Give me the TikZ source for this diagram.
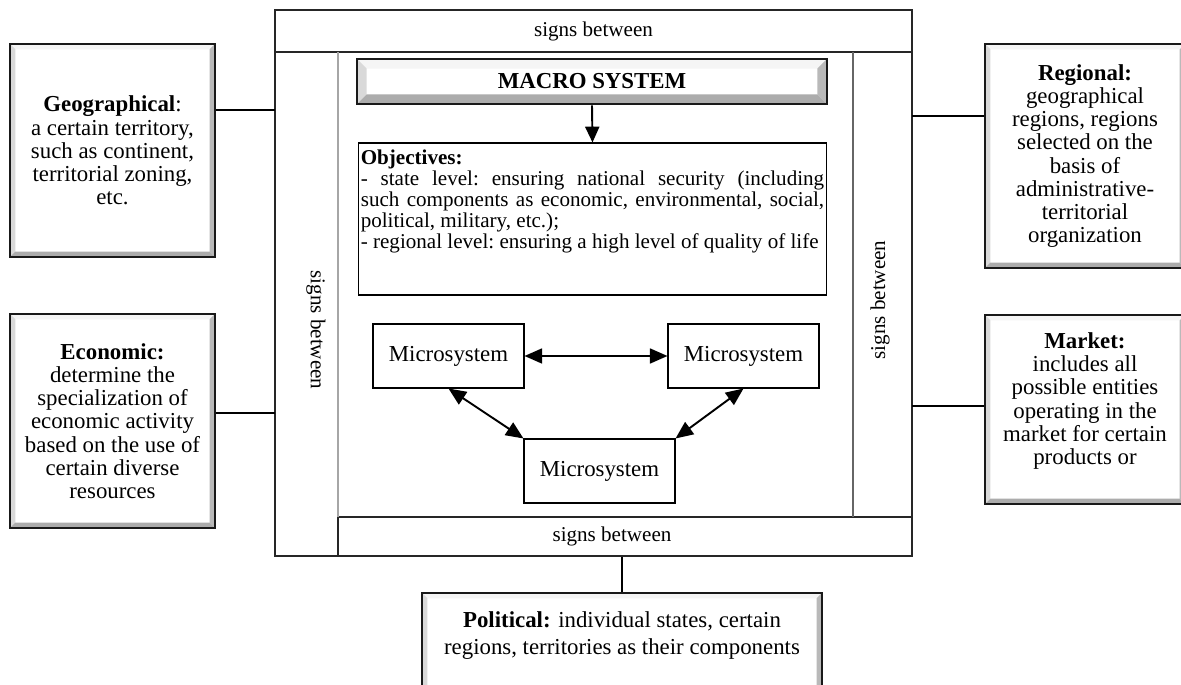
\documentclass[tikz,border=0pt]{standalone}
\usepackage{fontspec}
\setmainfont{Liberation Serif}
\usetikzlibrary{arrows.meta}
\usetikzlibrary{positioning}

\tikzset{
  bevel/.style={path picture={
    \coordinate (bnw) at (path picture bounding box.north west);
    \coordinate (bne) at (path picture bounding box.north east);
    \coordinate (bsw) at (path picture bounding box.south west);
    \coordinate (bse) at (path picture bounding box.south east);
    \fill[gray!8] (bnw) -- (bne) -- ([shift={(-#1,-#1)}]bne) -- ([shift={(#1,-#1)}]bnw) -- cycle;
    \fill[gray!30] (bnw) -- (bsw) -- ([shift={(#1,#1)}]bsw) -- ([shift={(#1,-#1)}]bnw) -- cycle;
    \fill[gray!55] (bne) -- (bse) -- ([shift={(-#1,#1)}]bse) -- ([shift={(-#1,-#1)}]bne) -- cycle;
    \fill[gray!65] (bsw) -- (bse) -- ([shift={(-#1,#1)}]bse) -- ([shift={(#1,#1)}]bsw) -- cycle;
  }},
  sidebox/.style={draw=black!90, line width=1.2pt, fill=white, bevel=3pt, align=center, inner sep=2pt, font=\fontsize{13}{13.2}\selectfont},
  microbox/.style={draw, line width=0.6pt, minimum width=3.02cm, minimum height=1.28cm, font=\fontsize{13}{13}\selectfont},
  bandtext/.style={font=\fontsize{12}{12}\selectfont},
  frameline/.style={line width=0.7pt, black!85},
  innerline/.style={line width=0.6pt, black!35},
  link/.style={line width=0.9pt},
  twoway/.style={line width=1.1pt, {Triangle[length=10pt,width=8.5pt]}-{Triangle[length=10pt,width=8.5pt]}},
}

\begin{document}
\begin{tikzpicture}[x=0.02cm,y=-0.02cm]
\useasboundingbox (0,0) rectangle (1181,685);

\node[draw, frameline, minimum width=12.74cm, minimum height=10.92cm, inner sep=0pt] (frame) at (593.5,283) {};
\draw[frameline] (275,52) -- (912,52);
\draw[frameline] (338,517) -- (912,517);
\draw[frameline] (338,517) -- (338,556);
\draw[innerline] (338,52) -- (338,517);
\draw[innerline, black!60] (853,52) -- (853,517);

\node[bandtext] (topsigns) at (593.5,31) {signs between};
\node[bandtext, rotate=-90] (leftsigns) at (316,330) {signs between};
\node[bandtext, rotate=90] (rightsigns) at (880,300) {signs between};
\node[bandtext] (botsigns) at (612,536) {signs between};

\node[draw=black!90, line width=1.6pt, fill=white, bevel=5.5pt, minimum width=9.4cm, minimum height=0.9cm, font=\bfseries\fontsize{13}{13}\selectfont] (macro) at (592,81.5) {MACRO SYSTEM};

\node[draw, line width=0.6pt, inner xsep=1.5pt, inner ysep=2pt] (obj) at (592.5,219) {\parbox[c][2.9cm][t]{9.27cm}{\fontsize{12}{12}\selectfont\frenchspacing
\vspace*{1.7pt}\textbf{Objectives:}\\
- state level: ensuring national security (including\linebreak such components as economic, environmental, social,\linebreak political, military, etc.);\\
- regional level: ensuring a high level of quality of life}};
\draw[line width=1.1pt, -{Triangle[length=9pt,width=8pt]}] (macro.south) -- (obj.north);

\node[microbox] (ml) at (448.5,356) {Microsystem};
\node[microbox] (mr) at (743.5,356) {Microsystem};
\node[microbox] (mb) at (599.5,471) {Microsystem};
\draw[twoway] (ml.east) -- (mr.west);
\draw[twoway] (ml.south) -- (mb.north west);
\draw[twoway] (mr.south) -- (mb.north east);

\node[sidebox, minimum width=4.1cm, minimum height=4.26cm] (geo) at (112.5,150.5) {\textbf{Geographical}:\\a certain territory,\\such as continent,\\territorial zoning,\\etc.};
\node[sidebox, minimum width=4.1cm, minimum height=4.28cm] (eco) at (112.5,421) {\textbf{Economic:}\\determine the\\specialization of\\economic activity\\based on the use of\\certain diverse\\resources};
\node[sidebox, minimum width=4.0cm, minimum height=4.48cm] (reg) at (1085,156) {\textbf{Regional:}\\geographical\\regions, regions\\selected on the\\basis of\\administrative-\\territorial\\organization};
\node[sidebox, minimum width=4.0cm, minimum height=3.78cm] (mkt) at (1085,409.5) {\textbf{Market:}\\includes all\\possible entities\\operating in the\\market for certain\\products or\rule[-12.5pt]{0pt}{12.5pt}};
\node[sidebox, minimum width=8cm, minimum height=2.14cm, font=\fontsize{13}{15}\selectfont] (pol) at (622,646.5) {\textbf{Political:} individual states, certain\\regions, territories as their components\rule[-15.4pt]{0pt}{15.4pt}};

\coordinate (geoend) at (275,110);
\coordinate (ecoend) at (275,413);
\coordinate (regend) at (912,116);
\coordinate (mktend) at (912,406);
\draw[link] (geo.east |- geoend) -- (geoend);
\draw[link] (eco.east |- ecoend) -- (ecoend);
\draw[link] (reg.west |- regend) -- (regend);
\draw[link] (mkt.west |- mktend) -- (mktend);
\draw[link] (pol.north) -- (pol.north |- frame.south);

\end{tikzpicture}
\end{document}
